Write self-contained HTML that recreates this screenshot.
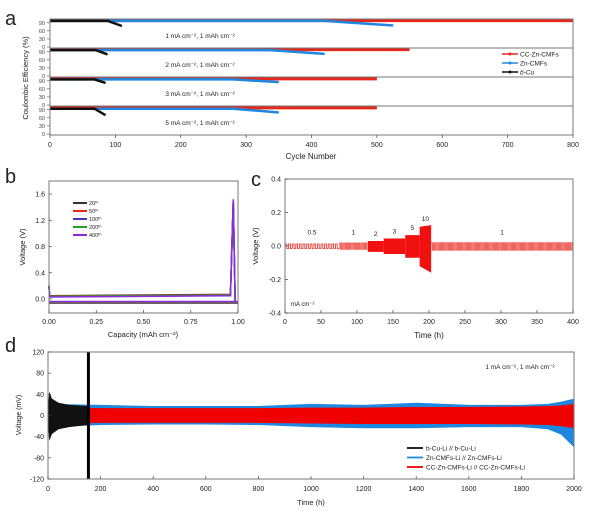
<!DOCTYPE html>
<html><head><meta charset="utf-8"><style>
html,body{margin:0;padding:0;background:#fff;}
svg{display:block;font-family:"Liberation Sans",sans-serif;}
</style></head><body>
<svg id="fig" width="600" height="517" viewBox="0 0 600 517"></svg>
<script>
// ===== Panel a data =====
const aCycleTicks=[0,100,200,300,400,500,600,700,800];
const aYTicks=[0,30,60,90];
const aConditions=["1 mA cm⁻², 1 mAh cm⁻²","2 mA cm⁻², 1 mAh cm⁻²","3 mA cm⁻², 1 mAh cm⁻²","5 mA cm⁻², 1 mAh cm⁻²"];
const aRedEnd=[800,550,500,500];
const aBlueEnd=[525,420,350,350];
const aBlackEnd=[110,88,85,85];
const aRedCE=[98,98,97,97];
const aBlueCE=[97,96,95,94];
const aBlackCE=[97,96,95,94];
const aBlueDropCE=[80,82,85,80];
const aBlackDropCE=[78,80,82,70];
// ===== Panel b data =====
const bXTicks=[0,0.25,0.5,0.75,1.0];
const bYTicks=[0,0.4,0.8,1.2,1.6];
const bCycles=["20ᵗʰ","50ᵗʰ","100ᵗʰ","200ᵗʰ","400ᵗʰ"];
const bChargeV=[0.05,0.045,0.035,0.04,0.03];
const bDischargeV=[-0.06,-0.05,-0.04,-0.045,-0.04];
const bPeakV=[1.5,1.52,1.5,1.49,1.5];
// ===== Panel c data =====
const cXTicks=[0,50,100,150,200,250,300,350,400];
const cYTicks=[-0.4,-0.2,0,0.2,0.4];
const cCurrents=[0.5,1,2,3,5,10,1];
const cSegStart=[0,75,115,137,167,187,203];
const cSegEnd=[75,115,137,167,187,203,400];
const cUpper=[0.012,0.018,0.03,0.045,0.065,0.12,0.02];
const cLower=[-0.015,-0.02,-0.035,-0.048,-0.07,-0.15,-0.025];
// ===== Panel d data =====
const dXTicks=[0,200,400,600,800,1000,1200,1400,1600,1800,2000];
const dYTicks=[-120,-80,-40,0,40,80,120];
const dTimes=[0,100,200,400,600,800,1000,1200,1400,1600,1800,1900,1950,2000];
const dBlueUp=[22,21,20,18,18,18,22,20,24,20,20,22,26,32];
const dBlueLo=[-22,-20,-18,-17,-17,-18,-22,-24,-24,-22,-22,-26,-36,-60];
const dRedUp=[16,15,14,14,14,14,15,15,16,16,17,18,19,22];
const dRedLo=[-16,-15,-14,-14,-14,-14,-15,-16,-16,-16,-17,-18,-20,-24];
const dBlackTimes=[0,5,15,40,80,150];
const dBlackUp=[20,45,32,24,20,18];
const dBlackLo=[-20,-48,-35,-26,-22,-18];

const svg=document.getElementById('fig');
const NS='http://www.w3.org/2000/svg';
function mk(tag,attrs,parent){const e=document.createElementNS(NS,tag);for(const k in attrs)e.setAttribute(k,attrs[k]);(parent||svg).appendChild(e);return e;}
function txt(x,y,s,size,anchor,parent,extra){const t=mk('text',Object.assign({x:x,y:y,'font-size':size,'text-anchor':anchor||'start',fill:'#222'},extra||{}),parent);t.textContent=s;return t;}
function lin(a0,a1,p0,p1){return v=>p0+(v-a0)/(a1-a0)*(p1-p0);}

// ===== Panel a =====
const ga=mk('g',{});


txt(5,25,'a',20,'start',ga);
const axX=lin(0,800,50,573);
const subTops=[19,48,77,106];
for(let i=0;i<4;i++){
  const top=subTops[i], bot=top+29;
  const yv=lin(0,104,bot-1,top);
  const sg=mk('g',{},ga);
  
  
  aYTicks.forEach(v=>{mk('line',{x1:50,x2:47,y1:yv(v),y2:yv(v),stroke:'#444','stroke-width':0.6},sg);txt(45,yv(v)+2,String(v),5.5,'end',sg,{fill:'#444'});});
  mk('polyline',{points:`${axX(0)},${yv(aRedCE[i])} ${axX(aRedEnd[i])},${yv(aRedCE[i])}`,stroke:'#e8261c','stroke-width':3,fill:'none'},sg);
  mk('polyline',{points:`${axX(0)},${yv(aBlueCE[i])} ${axX(aBlueEnd[i]*0.8)},${yv(aBlueCE[i])} ${axX(aBlueEnd[i])},${yv(aBlueDropCE[i])}`,stroke:'#1e88e0','stroke-width':2.5,fill:'none'},sg);
  mk('polyline',{points:`${axX(0)},${yv(aBlackCE[i])} ${axX(aBlackEnd[i]*0.8)},${yv(aBlackCE[i])} ${axX(aBlackEnd[i])},${yv(aBlackDropCE[i])}`,stroke:'#111','stroke-width':2.5,fill:'none'},sg);
  txt(200,top+19,aConditions[i],6.5,'middle',sg);
  mk('rect',{x:50,y:top,width:523,height:29,fill:'none',stroke:'#777','stroke-width':1},sg);
}
aCycleTicks.forEach(v=>{mk('line',{x1:axX(v),x2:axX(v),y1:135,y2:138,stroke:'#444','stroke-width':0.7},ga);txt(axX(v),147,String(v),7,'middle',ga);});
txt(311,159,'Cycle Number',8,'middle',ga);
txt(28,78,'Coulombic Efficiency (%)',7.5,'middle',ga,{transform:'rotate(-90 28 78)'});
const aLeg=[['CC-Zn-CMFs','#e8261c'],['Zn-CMFs','#1e88e0'],['b-Cu','#111']];
aLeg.forEach((l,j)=>{const y=54+j*9;mk('line',{x1:502,x2:518,y1:y,y2:y,stroke:l[1],'stroke-width':1.5},ga);mk('circle',{cx:510,cy:y,r:1.5,fill:l[1]},ga);const t=txt(520,y+2.5,l[0],6.5,'start',ga);if(j==2)t.setAttribute('font-style','italic');});

// ===== Panel b =====
const gb=mk('g',{});


txt(5,183,'b',20,'start',gb);
const bx=lin(0,1,49,238), by=lin(0,1.6,299,194);
const bColors=['#333','#e8261c','#3a3ac8','#2aa02a','#8a2be2'];
bCycles.forEach((c,i)=>{
  const p=mk('polyline',{points:`${bx(0)},${by(0.2)} ${bx(0.003)},${by(bChargeV[i])} ${bx(0.96)},${by(bChargeV[i]+0.02)} ${bx(0.975)},${by(bPeakV[i])} ${bx(0.985)},${by(bDischargeV[i])} ${bx(1)},${by(bDischargeV[i])} ${bx(0)},${by(bDischargeV[i])}`,stroke:bColors[i],'stroke-width':1.5,fill:'none'},gb);
  
  
  const y=203+i*8;mk('line',{x1:73,x2:87,y1:y,y2:y,stroke:bColors[i],'stroke-width':2},gb);txt(89,y+2,c,5.5,'start',gb);
});
mk('rect',{x:49,y:181,width:189,height:132,fill:'none',stroke:'#777','stroke-width':1},gb);
bYTicks.forEach(v=>{mk('line',{x1:49,x2:52,y1:by(v),y2:by(v),stroke:'#444','stroke-width':0.7},gb);txt(45,by(v)+2.5,v.toFixed(1),7,'end',gb);});
bXTicks.forEach(v=>{mk('line',{x1:bx(v),x2:bx(v),y1:313,y2:310,stroke:'#444','stroke-width':0.7},gb);txt(bx(v),324,v.toFixed(2),7,'middle',gb);});
txt(143,337,'Capacity (mAh cm⁻²)',7.5,'middle',gb);
txt(25,247,'Voltage (V)',7.5,'middle',gb,{transform:'rotate(-90 25 247)'});

// ===== Panel c =====
const gc=mk('g',{});


txt(251,186,'c',20,'start',gc);
const cx=lin(0,400,285,573), cy=lin(-0.4,0.4,313,179);
cCurrents.forEach((cur,i)=>{
  const s=cSegStart[i], e=cSegEnd[i];
  if(cur<=1){
    const period=cur<1?5:2.5; let pts=[]; let hi=true;
    for(let t=s;t<e;t+=period/2){const v=hi?cUpper[i]:cLower[i];pts.push(`${cx(t)},${cy(v)}`,`${cx(Math.min(t+period/2,e))},${cy(v)}`);hi=!hi;}
    const p=mk('polyline',{points:pts.join(' '),stroke:'#e8261c','stroke-width':cur<1?0.8:0.6,fill:'none'},gc);
    
    
  } else {
    const up2=cur==10?cUpper[i]+0.005:cUpper[i], lo2=cur==10?cLower[i]-0.01:cLower[i];
    const up1=cur==10?cUpper[i]-0.005:cUpper[i], lo1=cur==10?cLower[i]+0.03:cLower[i];
    const p=mk('polygon',{points:`${cx(s)},${cy(up1)} ${cx(e)},${cy(up2)} ${cx(e)},${cy(lo2)} ${cx(s)},${cy(lo1)}`,fill:'#f01010'},gc);
    
    
  }
  const lbly=cur<=1?cy(0.07):cy(cUpper[i]+0.03);
  txt(cx((s+e)/2),lbly,String(cur),6.5,'middle',gc);
});
mk('rect',{x:285,y:179,width:288,height:134,fill:'none',stroke:'#777','stroke-width':1},gc);
cYTicks.forEach(v=>{mk('line',{x1:285,x2:288,y1:cy(v),y2:cy(v),stroke:'#444','stroke-width':0.7},gc);txt(281,cy(v)+2.5,v.toFixed(1),7,'end',gc);});
cXTicks.forEach(v=>{mk('line',{x1:cx(v),x2:cx(v),y1:313,y2:310,stroke:'#444','stroke-width':0.7},gc);txt(cx(v),324,String(v),7,'middle',gc);});
txt(429,338,'Time (h)',8,'middle',gc);
txt(258,246,'Voltage (V)',7.5,'middle',gc,{transform:'rotate(-90 258 246)'});
txt(291,306,'mA cm⁻²',6,'start',gc);

// ===== Panel d =====
const gd=mk('g',{});


txt(5,352,'d',20,'start',gd);
const dx=lin(0,2000,48,574), dy=lin(-120,120,479,352);
function band(times,up,lo,color,name){
  let pts=[];
  times.forEach((t,i)=>{pts.push(`${dx(t)},${dy(up[i])}`);});
  for(let i=times.length-1;i>=0;i--){pts.push(`${dx(times[i])},${dy(lo[i])}`);}
  const p=mk('polygon',{points:pts.join(' '),fill:color},gd);
  
  
}
band(dTimes,dBlueUp,dBlueLo,'#1e88e0','zn-cmfs-band');
band(dTimes,dRedUp,dRedLo,'#f00000','cc-zn-cmfs-band');
band(dBlackTimes,dBlackUp,dBlackLo,'#111','b-cu-band');
mk('rect',{x:dx(148),y:352,width:3,height:127,fill:'#000'},gd);
mk('rect',{x:48,y:352,width:526,height:127,fill:'none',stroke:'#777','stroke-width':1},gd);
dYTicks.forEach(v=>{mk('line',{x1:48,x2:51,y1:dy(v),y2:dy(v),stroke:'#444','stroke-width':0.7},gd);txt(44,dy(v)+2.5,String(v),7,'end',gd);});
dXTicks.forEach(v=>{mk('line',{x1:dx(v),x2:dx(v),y1:479,y2:476,stroke:'#444','stroke-width':0.7},gd);txt(dx(v),491,String(v),7,'middle',gd);});
txt(311,505,'Time (h)',7.5,'middle',gd);
txt(21,415,'Voltage (mV)',7,'middle',gd,{transform:'rotate(-90 21 415)'});
txt(520,369,'1 mA cm⁻²,  1 mAh cm⁻²',6.5,'middle',gd);
const dLeg=[['b-Cu-Li // b-Cu-Li','#111'],['Zn-CMFs-Li // Zn-CMFs-Li','#1e88e0'],['CC-Zn-CMFs-Li // CC-Zn-CMFs-Li','#f00000']];
dLeg.forEach((l,j)=>{const y=448+j*9.5;mk('line',{x1:407,x2:423,y1:y,y2:y,stroke:l[1],'stroke-width':1.8},gd);txt(426,y+2.5,l[0],6.5,'start',gd);});
</script>
</body></html>
